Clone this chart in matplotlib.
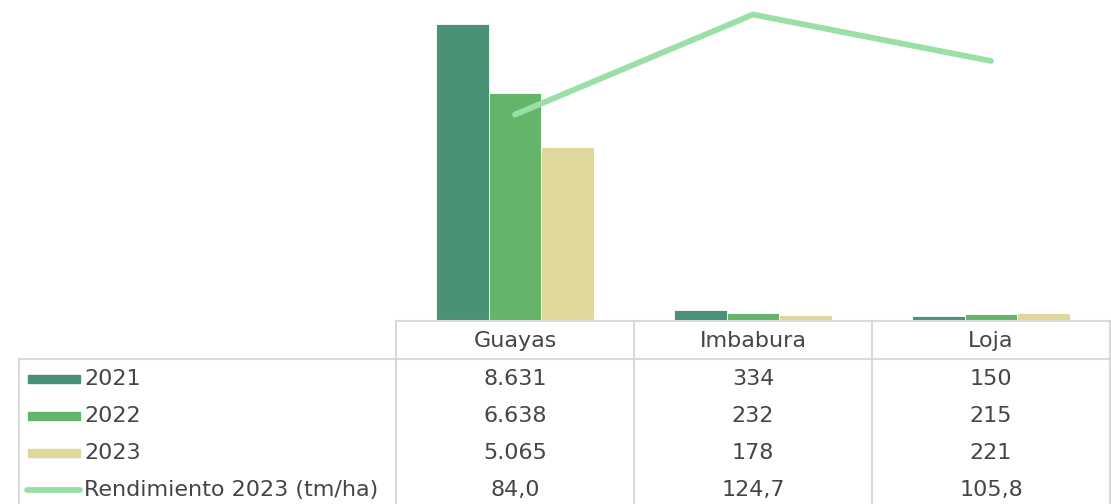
import matplotlib
matplotlib.use("Agg")
import matplotlib.pyplot as plt
import numpy as np

# ==================== DATOS ====================
provincias = ["Guayas", "Imbabura", "Loja"]
prod_2021 = [8631, 334, 150]
prod_2022 = [6638, 232, 215]
prod_2023 = [5065, 178, 221]
rendimiento_2023 = [84.0, 124.7, 105.8]

series_names = ["2021", "2022", "2023"]
colors = ["#4A9276", "#64B56A", "#DFD79C"]
line_color = "#9ADFA6"
grid_color = "#D9D9D9"
text_color = "#454545"

plt.rcParams['font.family'] = ['DejaVu Sans']

W, H = 1111, 504
fig = plt.figure(figsize=(W / 100, H / 100), dpi=100)

# ==================== GRAFICO ====================
ax_left, ax_right, ax_top, ax_bottom = 396, 1110, 0, 321
ax = fig.add_axes([ax_left / W, (H - ax_bottom) / H, (ax_right - ax_left) / W, (ax_bottom - ax_top) / H])
x = np.arange(len(provincias))
bw = 0.2215
for i, (vals, c) in enumerate(zip([prod_2021, prod_2022, prod_2023], colors)):
    ax.bar(x + (i - 1) * bw, vals, bw, color=c, edgecolor="white", linewidth=0.6, zorder=2)
ax.set_xlim(-0.5, 2.5)
ax.set_ylim(0, 9330)
for s in ["top", "left", "right"]:
    ax.spines[s].set_visible(False)
ax.spines["bottom"].set_color(grid_color)
ax.spines["bottom"].set_linewidth(1.5)
ax.set_xticks([])
ax.set_yticks([])

ax2 = ax.twinx()
ax2.plot(x, rendimiento_2023, color=line_color, linewidth=4.2, solid_capstyle="round", solid_joinstyle="round", zorder=3)
ax2.set_ylim(0, 130.6)
ax2.axis("off")

# ==================== TABLA DE DATOS ====================
tab = fig.add_axes([0, 0, 1, 1], zorder=-1)
tab.set_xlim(0, W)
tab.set_ylim(H, 0)
tab.axis("off")

col_edges = [396, 634, 872, 1110]
header_y = 341
row_ys = [379, 416, 453, 490]
lw = 1.5

# lineas
for xe in col_edges:
    tab.plot([xe, xe], [321, H], color=grid_color, lw=lw)
tab.plot([19, 1110], [359, 359], color=grid_color, lw=lw)
tab.plot([19, 19], [359, H], color=grid_color, lw=lw)

fs = 16
for j, name in enumerate(provincias):
    cx = (col_edges[j] + col_edges[j + 1]) / 2
    tab.text(cx, header_y, name, ha="center", va="center", fontsize=fs, color=text_color)


def fmt_int(v):
    return f"{v:,}".replace(",", ".")


def fmt_dec(v):
    return f"{v:.1f}".replace(".", ",")


rows = [prod_2021, prod_2022, prod_2023]
for r, (vals, name, c) in enumerate(zip(rows, series_names, colors)):
    y = row_ys[r]
    tab.add_patch(plt.Rectangle((28, y - 4), 52, 8, color=c))
    tab.text(84, y, name, ha="left", va="center", fontsize=fs, color=text_color)
    for j, v in enumerate(vals):
        cx = (col_edges[j] + col_edges[j + 1]) / 2
        tab.text(cx, y, fmt_int(v), ha="center", va="center", fontsize=fs, color=text_color)

y = row_ys[3]
tab.plot([27, 80], [y, y], color=line_color, lw=4.2, solid_capstyle="round")
tab.text(84, y, "Rendimiento 2023 (tm/ha)", ha="left", va="center", fontsize=fs, color=text_color)
for j, v in enumerate(rendimiento_2023):
    cx = (col_edges[j] + col_edges[j + 1]) / 2
    tab.text(cx, y, fmt_dec(v), ha="center", va="center", fontsize=fs, color=text_color)

fig.savefig("out.png", dpi=100)
plt.close(fig)
